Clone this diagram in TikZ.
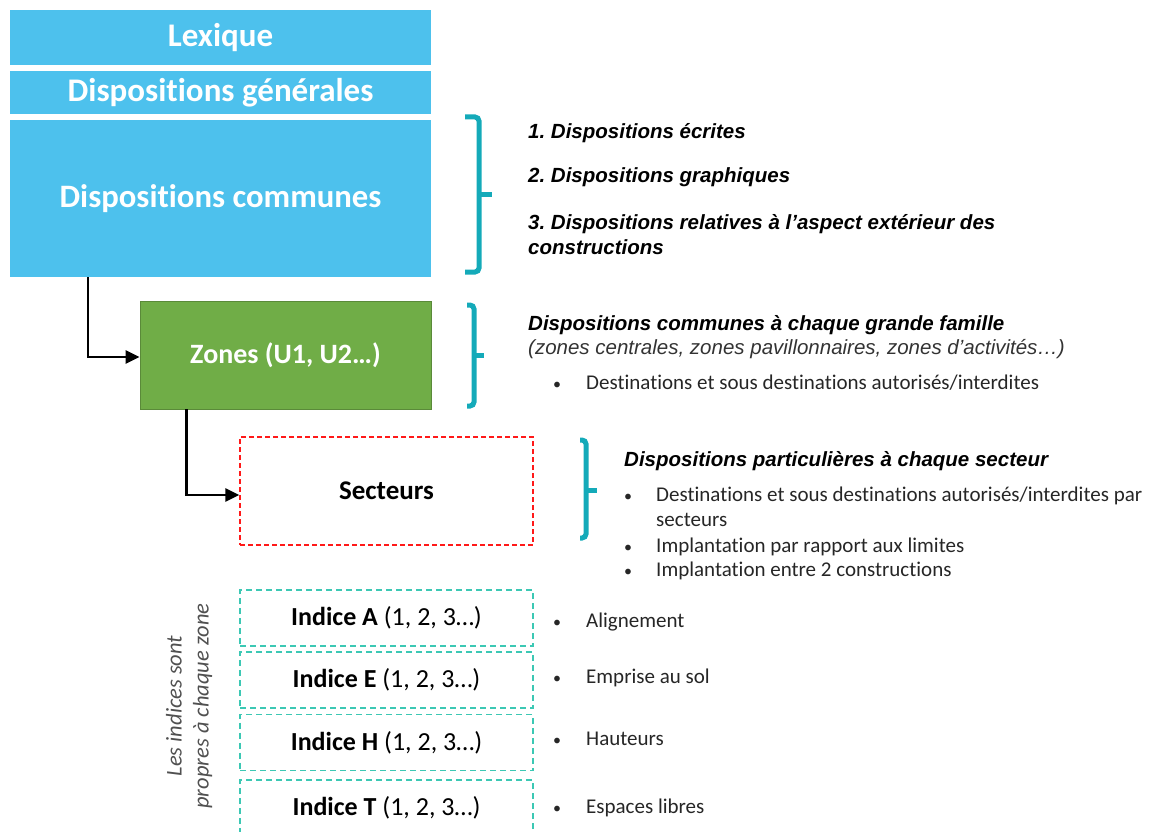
\documentclass[tikz,border=0pt]{standalone}
\usepackage{fontspec}
\setmainfont{Carlito}[Ligatures=NoCommon]
\newfontfamily\arialfont{Liberation Sans}
\usetikzlibrary{arrows.meta,positioning}
\frenchspacing

\definecolor{lexblue}{RGB}{77,193,237}
\definecolor{zonegreen}{RGB}{112,173,71}
\definecolor{bracecol}{RGB}{20,170,185}
\definecolor{indicecol}{RGB}{60,200,180}
\definecolor{notegray}{RGB}{80,80,80}

\tikzset{
  bluebox/.style={fill=lexblue, text=white, font=\bfseries\fontsize{33}{38}\selectfont, minimum width=421pt, inner sep=0pt},
  greenbox/.style={fill=zonegreen, draw=zonegreen!80!black, line width=0.8pt, text=white, font=\bfseries\fontsize{28}{32}\selectfont, minimum width=291pt, minimum height=108pt},
  sectbox/.style={draw=red!90!white, dash pattern=on 5pt off 3pt, line width=1.3pt, font=\bfseries\fontsize{27}{32}\selectfont, minimum width=293pt, minimum height=108pt},
  indicebox/.style={draw=indicecol, dash pattern=on 6pt off 4pt, line width=1.4pt, font=\fontsize{26}{30}\selectfont, minimum width=293pt, minimum height=56pt},
  bracket/.style={draw=bracecol, line width=5pt, rounded corners=4pt},
  link/.style={draw=black, line width=2.6pt, -{Triangle[length=14pt,width=13pt]}},
  head/.style={font=\arialfont\bfseries\itshape\fontsize{20.5}{25}\selectfont, anchor=base west, inner sep=0pt, align=left},
  sub/.style={font=\arialfont\itshape\fontsize{20.5}{25}\selectfont, anchor=base west, inner sep=0pt, text=black!80},
  item/.style={font=\fontsize{21}{25}\selectfont, anchor=base west, inner sep=0pt, align=left, text=black!85},
  dot/.style={font=\fontsize{16}{20}\selectfont, anchor=base, inner sep=0pt, text=black!85}
}

\begin{document}
\begin{tikzpicture}[x=1pt, y=-1pt]
  \useasboundingbox (0,0) rectangle (1151,832);

  % stacked boxes
  \node[bluebox, minimum height=55pt]  (lexique)   at (220.5,37.5)  {Lexique};
  \node[bluebox, minimum height=43pt]  (generales) [below=6pt of lexique] {Dispositions générales};
  \node[bluebox, minimum height=157pt, font=\bfseries\fontsize{32.7}{38}\selectfont] (communes) [below=5pt of generales] {Dispositions communes};
  \node[greenbox] (zones)    at (285.5,355) {Zones (U1, U2…)};
  \node[sectbox]  (secteurs) at (386.5,491) {Secteurs};

  \node[indicebox] (indA) at (386.5,618)   {\textbf{Indice A} (1, 2, 3…)};
  \node[indicebox] (indE) at (386.5,680)   {\textbf{Indice E} (1, 2, 3…)};
  \node[indicebox] (indH) at (386.5,742.5) {\textbf{Indice H} (1, 2, 3…)};
  \node[indicebox] (indT) at (386.5,808)   {\textbf{Indice T} (1, 2, 3…)};

  \node[rotate=90, align=center, text=notegray, font=\itshape\fontsize{22.5}{27}\selectfont] (note) at (189,706)
       {Les indices sont\\propres à chaque zone};

  % arrows
  \draw[link] ([xshift=78pt]communes.south west) |- ([yshift=-2pt]zones.west);
  \draw[link] ([xshift=47pt]zones.south west) |- ([yshift=-4pt]secteurs.west);

  % brackets
  \draw[bracket] (465,117) -- (479,117) -- (479,272) -- (465,272);
  \draw[bracket, rounded corners=0pt] (479,194) -- (492,194);
  \draw[bracket] (467,305) -- (474,305) -- (474,406) -- (467,406);
  \draw[bracket, rounded corners=0pt] (474,355) -- (484,355);
  \draw[bracket] (580,440) -- (586,440) -- (586,538) -- (580,538);
  \draw[bracket, rounded corners=0pt] (586,490) -- (597,490);

  % texts of the common provisions
  \node[head] (ecrites)    at (528,138.5) {1. Dispositions écrites};
  \node[head] (graphiques) at (528,182.5) {2. Dispositions graphiques};
  \node[head] (relatives)  at (528,254.5) {3. Dispositions relatives à l’aspect extérieur des\\constructions};

  % texts of the zones
  \node[head] (famille) at (528,330.5) {Dispositions communes à chaque grande famille};
  \node[sub]  (familles) at (528,354.5) {(zones centrales, zones pavillonnaires, zones d’activités…)};
  \node[dot]  at (557,389) {•};
  \node[item] (destzone) at (586,389) {Destinations et sous destinations autorisés/interdites};

  % texts of the sectors
  \node[head] (secteur) at (624,466.5) {Dispositions particulières à chaque secteur};
  \node[dot]  at (628,501) {•};
  \node[item] (destsect) at (656,526) {Destinations et sous destinations autorisés/interdites par\\secteurs};
  \node[dot]  at (628,552) {•};
  \node[item] (limites) at (656,552) {Implantation par rapport aux limites};
  \node[dot]  at (628,576) {•};
  \node[item] (entre) at (656,576) {Implantation entre 2 constructions};

  % texts of the indices
  \node[dot]  at (557,627) {•};
  \node[item] (alignement) at (586,627) {Alignement};
  \node[dot]  at (557,683) {•};
  \node[item] (emprise) at (586,683) {Emprise au sol};
  \node[dot]  at (557,745) {•};
  \node[item] (hauteurs) at (586,745) {Hauteurs};
  \node[dot]  at (557,813) {•};
  \node[item] (espaces) at (586,813) {Espaces libres};
\end{tikzpicture}
\end{document}
